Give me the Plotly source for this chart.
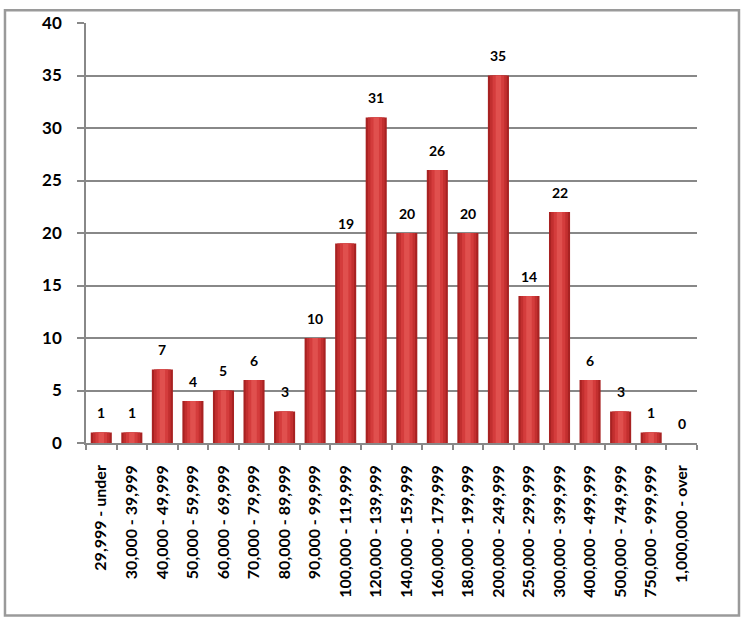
import plotly.graph_objects as go

categories = ["29,999 - under", "30,000 - 39,999", "40,000 - 49,999", "50,000 - 59,999",
              "60,000 - 69,999", "70,000 - 79,999", "80,000 - 89,999", "90,000 - 99,999",
              "100,000 - 119,999", "120,000 - 139,999", "140,000 - 159,999", "160,000 - 179,999",
              "180,000 - 199,999", "200,000 - 249,999", "250,000 - 299,999", "300,000 - 399,999",
              "400,000 - 499,999", "500,000 - 749,999", "750,000 - 999,999", "1,000,000 - over"]
counts = [1, 1, 7, 4, 5, 6, 3, 10, 19, 31, 20, 26, 20, 35, 14, 22, 6, 3, 1, 0]
y_ticks = [0, 5, 10, 15, 20, 25, 30, 35, 40]

FONT = "Lato"
fig = go.Figure()
# layered bars to imitate the shaded cylinder look
layers = [(0.69, "#a82222"), (0.55, "#c22f2f"), (0.38, "#d43c3c"), (0.18, "#e0504e")]
for w, c in layers:
    fig.add_trace(go.Bar(x=categories, y=counts, width=w, marker=dict(color=c, line=dict(width=0)),
                         hoverinfo="skip", showlegend=False))

for cat, v in zip(categories, counts):
    fig.add_annotation(x=cat, y=v, text=str(v), showarrow=False, yshift=20,
                       yanchor="middle", font=dict(family=FONT, size=14, color="black", weight="bold"))

fig.add_shape(type="rect", xref="paper", yref="paper", x0=-0.1326, x1=1.0687, y0=-0.4108, y1=1.0305,
              line=dict(color="#9a9a9a", width=2.5), fillcolor="rgba(0,0,0,0)", layer="below")

fig.update_layout(
    width=741, height=620, barmode="overlay",
    margin=dict(l=86, r=44, t=17, b=177),
    paper_bgcolor="white", plot_bgcolor="white",
    font=dict(family=FONT, color="black"),
)
fig.update_xaxes(type="category", tickangle=-90, tickson="boundaries", ticks="outside", ticklen=5,
                 tickcolor="#888888", tickwidth=1.5, showline=True, linecolor="#888888", linewidth=1.5,
                 showgrid=False, tickfont=dict(family=FONT, size=16, color="black", weight="bold"),
                 ticklabelstandoff=14)
fig.update_yaxes(range=[0, 40], tickvals=y_ticks, ticks="outside", ticklen=7, tickcolor="#888888",
                 tickwidth=1.5, showline=True, linecolor="#888888", linewidth=1.5,
                 showgrid=True, gridcolor="#888888", gridwidth=1.5, zeroline=False,
                 tickfont=dict(family=FONT, size=17, color="black", weight="bold"),
                 ticklabelstandoff=12)

fig.write_html("out.html")
